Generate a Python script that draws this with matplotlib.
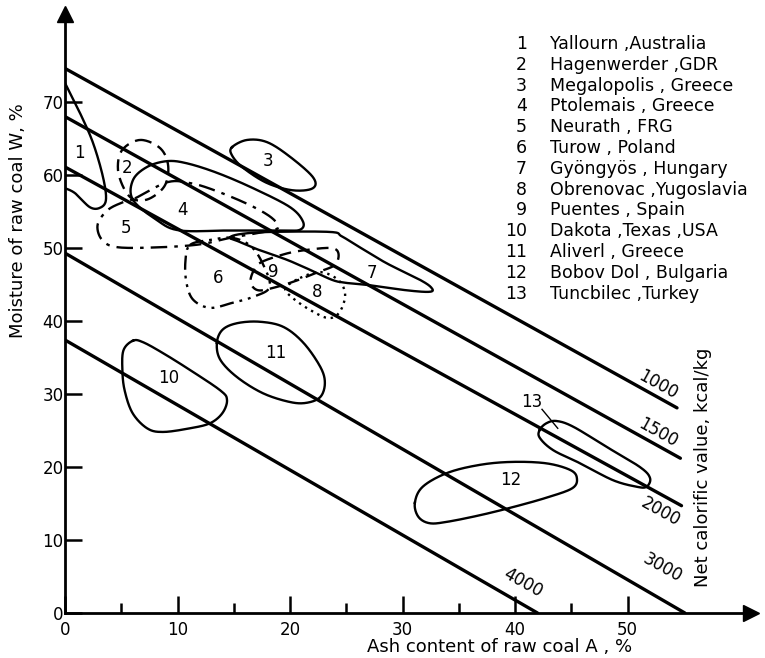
import numpy as np
import matplotlib
matplotlib.use('Agg')
import matplotlib.pyplot as plt

# iso-lines of net calorific value (kcal/kg): W at A=0 and end point
iso_values = [1000, 1500, 2000, 3000, 4000]
iso_w0 = [74.6, 68.0, 61.1, 49.3, 37.4]
iso_a_end = [54.4, 54.7, 54.8, 55.1, 42.0]
iso_w_end = [28.1, 21.2, 14.7, 0.0, 0.0]
iso_lab_a = [52.7, 52.7, 52.9, 53.1, 40.7]
iso_lab_w = [31.2, 24.7, 13.8, 6.2, 4.1]

# coal field outlines (ash A %, moisture W %)
r1_a = [0.0, 1.33, 2.49, 3.38, 3.64, 3.1, 2.2, 0.9, 0.0]
r1_w = [72.6, 68.5, 64.4, 59.7, 56.6, 55.5, 55.6, 57.5, 58.2]
r2_a = [6.67, 8.44, 9.16, 8.89, 7.56, 6.22, 5.33, 4.71, 5.07]
r2_w = [64.8, 63.7, 61.4, 58.6, 56.8, 56.6, 57.9, 60.7, 63.4]
r3_a = [14.84, 16.18, 17.96, 20.0, 22.04, 22.04, 20.27, 17.96, 15.82, 14.84]
r3_w = [63.8, 64.8, 64.5, 62.5, 59.7, 58.2, 57.9, 58.9, 61.0, 62.7]
r4_a = [6.04, 6.04, 7.29, 9.07, 10.84, 13.51, 16.71, 20.0, 21.16, 20.89, 19.38, 14.67, 10.22, 8.18]
r4_w = [56.6, 59.3, 61.1, 61.9, 61.6, 60.3, 58.2, 55.6, 53.6, 52.5, 52.4, 52.4, 52.4, 53.8]
r5_a = [6.22, 9.07, 11.1, 13.3, 16.4, 18.4, 18.9, 17.3, 14.7, 12.0, 8.4, 4.7, 3.3, 2.9, 3.8, 5.2]
r5_w = [56.8, 59.0, 58.9, 57.9, 55.9, 54.1, 52.7, 52.1, 51.4, 50.5, 50.1, 50.1, 51.1, 53.2, 55.2, 56.3]
r6_a = [11.1, 12.9, 14.8, 16.4, 17.5, 18.2, 16.7, 14.9, 12.9, 11.4, 10.8, 10.7]
r6_w = [50.4, 51.1, 51.4, 50.4, 48.1, 44.7, 43.3, 42.5, 41.8, 42.9, 45.2, 48.1]
r7_a = [14.67, 15.56, 18.22, 23.56, 24.6, 26.2, 28.6, 31.6, 32.6, 32.4, 30.4, 27.1, 25.1, 23.8, 21.8, 19.7, 17.3, 15.6]
r7_w = [51.4, 51.9, 52.2, 52.2, 51.6, 50.1, 47.9, 45.6, 44.5, 44.0, 44.2, 44.9, 45.2, 45.6, 47.0, 48.4, 49.7, 50.8]
r8_a = [20.9, 22.7, 24.3, 24.9, 24.4, 23.4, 21.8, 20.2, 19.6]
r8_w = [45.9, 46.7, 45.6, 43.6, 41.2, 40.4, 41.5, 43.2, 44.5]
r9_a = [17.5, 19.6, 21.3, 23.6, 24.3, 24.0, 22.5, 20.7, 18.9, 17.2, 16.5, 16.8]
r9_w = [48.1, 49.2, 49.7, 50.0, 49.3, 47.7, 46.7, 45.6, 44.7, 44.2, 45.3, 47.0]
r10_a = [6.04, 6.93, 8.71, 11.1, 13.8, 14.4, 14.0, 12.9, 11.1, 8.7, 7.3, 6.0, 5.3, 5.1, 5.2]
r10_w = [37.3, 37.1, 35.6, 33.3, 30.5, 29.2, 27.4, 26.0, 25.3, 24.8, 25.3, 27.4, 30.5, 33.3, 36.0]
r11_a = [13.5, 14.0, 15.3, 17.3, 19.4, 21.2, 22.7, 23.1, 22.7, 21.5, 20.0, 17.6, 15.3, 13.8]
r11_w = [37.0, 38.8, 39.7, 39.9, 39.2, 37.0, 33.7, 31.5, 29.6, 28.8, 28.9, 30.1, 32.3, 34.7]
r12_a = [31.1, 31.8, 34.0, 36.9, 39.8, 42.8, 44.9, 45.5, 45.1, 42.8, 39.8, 36.9, 34.0, 32.4, 31.4]
r12_w = [15.1, 17.3, 19.2, 20.3, 20.7, 20.5, 19.6, 18.5, 17.1, 15.8, 14.5, 13.4, 12.5, 12.3, 13.2]
r13_a = [42.2, 42.8, 43.7, 45.2, 48.2, 51.1, 52.0, 51.7, 50.8, 48.7, 45.8, 43.4, 42.2]
r13_w = [25.1, 26.0, 26.3, 25.5, 22.7, 20.0, 18.5, 17.3, 17.3, 18.2, 20.5, 22.3, 24.0]

# label position of each field number
num_a = [1.25, 5.5, 18.0, 10.4, 5.4, 13.6, 27.3, 22.4, 18.5, 9.2, 18.7, 39.6, 41.5]
num_w = [63.0, 61.0, 61.9, 55.2, 52.7, 45.9, 46.6, 44.0, 46.7, 32.2, 35.6, 18.2, 28.9]

legend_names = ['Yallourn ,Australia', 'Hagenwerder ,GDR', 'Megalopolis , Greece',
                'Ptolemais , Greece', 'Neurath , FRG', 'Turow , Poland',
                'Gyöngyös , Hungary', 'Obrenovac ,Yugoslavia', 'Puentes , Spain',
                'Dakota ,Texas ,USA', 'Aliverl , Greece', 'Bobov Dol , Bulgaria',
                'Tuncbilec ,Turkey']


def smooth(a, w, closed=True, n=24):
    p = np.column_stack([a, w]).astype(float)
    if closed:
        p = np.vstack([p[-1], p, p[0], p[1]])
    else:
        p = np.vstack([p[0], p, p[-1]])
    t = np.linspace(0, 1, n, endpoint=False)[:, None]
    out = []
    for i in range(1, len(p) - 2):
        p0, p1, p2, p3 = p[i - 1], p[i], p[i + 1], p[i + 2]
        out.append(0.5 * (2 * p1 + (-p0 + p2) * t + (2 * p0 - 5 * p1 + 4 * p2 - p3) * t ** 2
                          + (-p0 + 3 * p1 - 3 * p2 + p3) * t ** 3))
    out.append(p[-2][None])
    s = np.vstack(out)
    return s[:, 0], s[:, 1]


W_PX, H_PX = 765, 658
fig = plt.figure(figsize=(W_PX / 100, H_PX / 100), dpi=100)
x0, y0 = 65, 613
sx, sy = 11.25, 7.3
xmax, ymax = 61.0, 82.0
ax = fig.add_axes([x0 / W_PX, (H_PX - y0) / H_PX, xmax * sx / W_PX, ymax * sy / H_PX])
ax.set_xlim(0, xmax)
ax.set_ylim(0, ymax)

for s in ['top', 'right']:
    ax.spines[s].set_visible(False)
for s in ['left', 'bottom']:
    ax.spines[s].set_linewidth(2.0)
ax.plot([xmax], [0], marker='>', color='k', markersize=11, clip_on=False)
ax.plot([0], [ymax], marker='^', color='k', markersize=11, clip_on=False)

ax.set_xticks([0, 10, 20, 30, 40, 50])
ax.set_xticks([5, 15, 25, 35, 45], minor=True)
ax.set_yticks([0, 10, 20, 30, 40, 50, 60, 70])
ax.tick_params(axis='both', which='major', direction='in', length=12, width=1.8,
               labelsize=12)
ax.tick_params(axis='x', which='minor', direction='in', length=7, width=1.8)
ax.tick_params(axis='x', which='major', pad=6)
ax.tick_params(axis='y', which='major', pad=1)

# iso-lines
for i in range(len(iso_values)):
    ax.plot([0, iso_a_end[i]], [iso_w0[i], iso_w_end[i]], color='k', lw=2.4,
            solid_capstyle='round')
    ax.text(iso_lab_a[i], iso_lab_w[i], str(iso_values[i]), rotation=-29,
            rotation_mode='anchor', ha='center', va='center', fontsize=12)

# coal fields
fields = [
    (r1_a, r1_w, False, '-'),
    (r2_a, r2_w, True, (0, (5, 3))),
    (r3_a, r3_w, True, '-'),
    (r4_a, r4_w, True, '-'),
    (r5_a, r5_w, True, (0, (7, 3, 1.5, 3))),
    (r6_a, r6_w, True, (0, (6, 2.5, 1.2, 2.5, 1.2, 2.5))),
    (r7_a, r7_w, True, '-'),
    (r8_a, r8_w, True, (0, (1, 2))),
    (r9_a, r9_w, True, (0, (5, 3))),
    (r10_a, r10_w, True, '-'),
    (r11_a, r11_w, True, '-'),
    (r12_a, r12_w, True, '-'),
    (r13_a, r13_w, True, '-'),
]
for a, w, closed, ls in fields:
    xa, yw = smooth(a, w, closed)
    ax.plot(xa, yw, color='k', lw=1.7, linestyle=ls)

for i in range(len(num_a)):
    ax.text(num_a[i], num_w[i], str(i + 1), ha='center', va='center', fontsize=12)
ax.plot([42.4, 43.8], [27.9, 25.3], color='k', lw=1.0)


def fx(px):
    return px / W_PX


def fy(py):
    return 1 - py / H_PX


# legend
for i, name in enumerate(legend_names):
    yy = 44 + 20.8 * i
    fig.text(fx(527), fy(yy), str(i + 1), ha='right', va='center', fontsize=12.5)
    fig.text(fx(550), fy(yy), name, ha='left', va='center', fontsize=12.5)

fig.text(fx(18), fy(221), 'Moisture of raw coal W, %', rotation=90,
         ha='center', va='center', fontsize=13)
fig.text(fx(500), fy(647), 'Ash content of raw coal A , %', ha='center',
         va='center', fontsize=13)
fig.text(fx(703), fy(467), 'Net calorific value, kcal/kg', rotation=90,
         ha='center', va='center', fontsize=13)

fig.savefig('out.png', dpi=100)
